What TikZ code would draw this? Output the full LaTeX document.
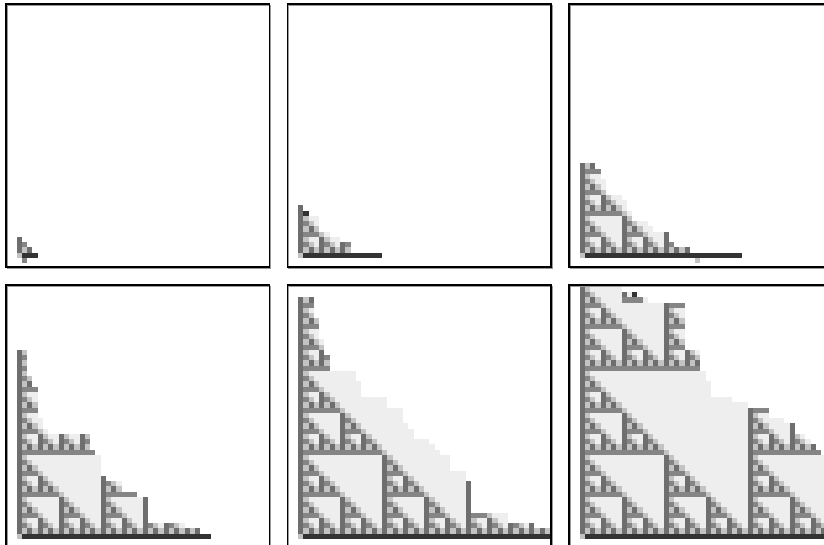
\documentclass[tikz,border=0pt]{standalone}
\definecolor{cellvert}{HTML}{6E6E6E}
\definecolor{cellhorz}{HTML}{858585}
\definecolor{cellshade}{HTML}{C3C3C3}
\definecolor{cellpale}{HTML}{EEEEEE}
\definecolor{cellhead}{HTML}{333333}

\newcount\bitA
\newcount\bitB
\newif\ifcellon
% a cell is set when column and row share no binary digit
\newcommand\testcell[2]{\bitA=\numexpr#1\relax \bitB=\numexpr#2\relax \cellontrue
  \loop\ifnum\numexpr\bitA*\bitB\relax>0
    \ifodd\bitA\ifodd\bitB\cellonfalse\fi\fi
    \divide\bitA by 2 \divide\bitB by 2
  \repeat}
\newcommand\putcell[5]{\fill[#5] (#1+5.25*#3,#2-5.25*#4) rectangle ++(5.25,5.25);}
\newcommand\cellfill[4]{%
  \testcell{#3}{#4}\ifcellon\def\cellhere{1}\else\def\cellhere{0}\fi
  \testcell{#3-1}{#4}\ifcellon\def\cellleft{1}\else\def\cellleft{0}\fi
  \def\cellcol{}%
  \ifnum\cellhere=1
    \ifnum\cellleft=1 \def\cellcol{cellhorz}\else\def\cellcol{cellvert}\fi
  \else
    \ifnum\cellleft=1 \def\cellcol{cellshade}\fi
  \fi
  \ifx\cellcol\empty\else\putcell{#1}{#2}{#3}{#4}{\cellcol}\fi}
\newcommand\panel[4]{%
  \pgfmathsetmacro\gx{#1+10.5}\pgfmathsetmacro\gy{#2+248.5}
  \begin{scope}
    \clip (#1,#2) rectangle ++(263.5,263);
    \foreach \f [count=\r] in {#3}{
      \fill[cellpale] (\gx,\gy-5.25*\r) rectangle ++(5.25*\f,5.25);
      \putcell{\gx}{\gy}{0}{\r}{cellvert}
      \ifnum\f>1
        \pgfmathtruncatemacro\last{\f-1}
        \foreach \c in {1,...,\last}{\cellfill{\gx}{\gy}{\c}{\r}}
      \fi}
    \putcell{\gx}{\gy}{0}{0}{cellshade}
    \fill[cellhead] (\gx+5.25,\gy) rectangle ++(5.25*#4,5.25);
  \end{scope}
  \draw[black!40] (#1+1,#2+1) rectangle ++(263.5,263);
  \draw[line width=1.5] (#1,#2) rectangle ++(263.5,263);}

\begin{document}
\begin{tikzpicture}[x=1pt,y=-1pt]
\useasboundingbox (0,0) rectangle (824,545);
\clip (0,0) rectangle (824,545);
\fill[white] (0,0) rectangle (824,545);

\panel{6}{4.2}{3,2,1}{3}
\putcell{16.5}{252.7}{1}{-1}{cellhorz}

\panel{287.5}{4.2}{10,10,8,6,4,4,4,1,1}{15}
\putcell{298}{252.7}{1}{8}{cellhead}

\panel{569}{4.2}{21,18,17,17,14,13,10,10,9,9,8,5,5,5,4,4,3}{30}
\putcell{579.5}{252.7}{22}{-1}{cellshade}

\panel{6}{285.2}{35,32,25,25,25,25,25,23,20,20,17,16,16,16,16,15,14,14,14,6,5,5,4,4,4,4,4,4,3,3,2,2,2,2,2}{36}

\panel{287.5}{285.2}{48,45,40,40,33,33,33,33,33,33,32,32,29,29,29,27,26,25,22,22,21,20,20,20,17,17,12,12,12,11,11,6,6,6,5,5,5,4,4,4,4,3,3,3,3}{47}

\panel{569}{285.2}{49,49,49,49,49,49,49,49,49,49,49,49,49,49,49,46,45,44,43,41,41,39,36,36,32,29,25,25,25,24,24,23,23,23,23,20,20,20,20,20,20,20,20,20,13,11,8}{48}
\foreach \c in {8,...,11}{\putcell{579.5}{533.7}{\c}{45}{cellhorz}}
\putcell{579.5}{533.7}{8}{46}{cellvert}
\putcell{579.5}{533.7}{10}{46}{cellhead}
\end{tikzpicture}
\end{document}
